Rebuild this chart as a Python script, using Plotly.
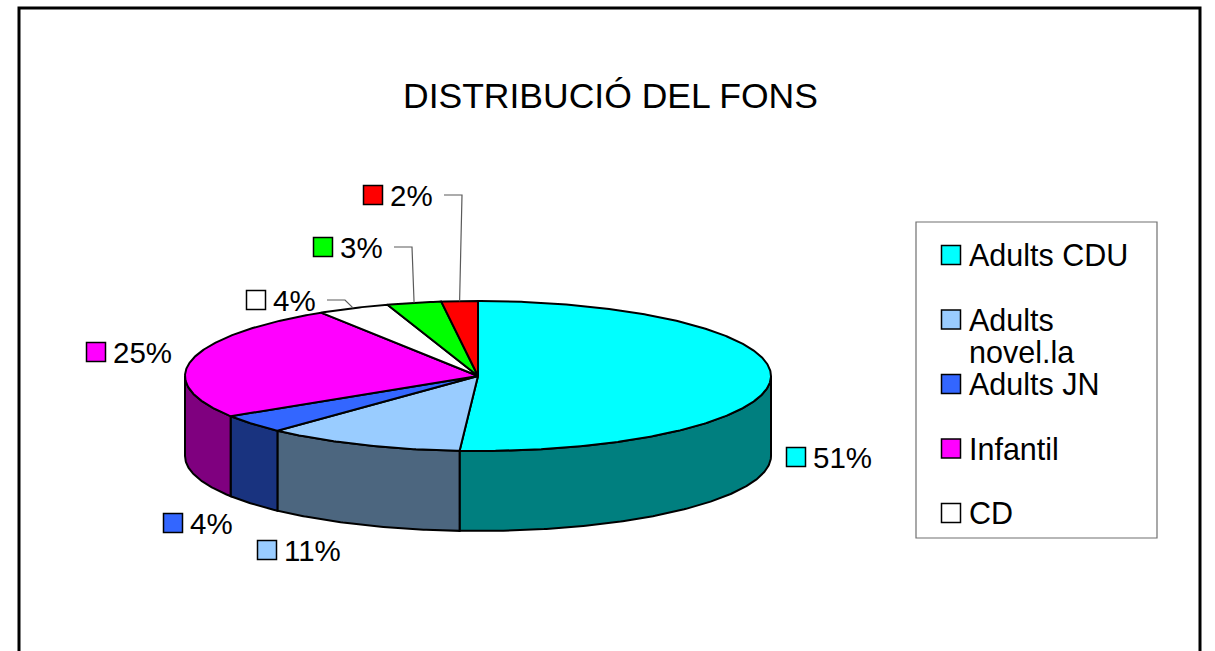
import numpy as np
import plotly.graph_objects as go

# ---------------- data ----------------
CATEGORIES = ["Adults CDU", "Adults novel.la", "Adults JN", "Infantil", "CD", "Altres 1", "Altres 2"]
VALUES = [51, 11, 4, 25, 4, 3, 2]
LEGEND_LABELS = [["Adults CDU"], ["Adults", "novel.la"], ["Adults JN"], ["Infantil"], ["CD"]]
TITLE = "DISTRIBUCIÓ DEL FONS"

# ---------------- style / layout ----------------
TOP_COLORS = ["#00FFFF", "#99CCFF", "#3366FF", "#FF00FF", "#FFFFFF", "#00FF00", "#FF0000"]
FONT = "Liberation Sans, Arial, sans-serif"
W, H = 1215, 651
CX, CY, RX, RY, DEPTH = 478, 376, 293, 75, 80      # pixel geometry of the 3D pie
START_ANGLE = 90                                    # 12 o'clock, clockwise
LABEL_POS = [(796, 457), (267, 550), (173, 523), (96, 352), (256, 300), (323, 247), (373, 195)]
HAS_LEADER = [False, False, False, False, True, True, True]
LEG_BOX = (916, 222, 1157, 538)
LEG_MARK_X, LEG_TOP, LEG_STEP, LEG_LINE = 951, 255, 64.5, 32


def darken(hexcol, f=0.5):
    h = hexcol.lstrip("#")
    r, g, b = (int(h[i:i + 2], 16) for i in (0, 2, 4))
    return "#%02X%02X%02X" % (int(r * f), int(g * f), int(b * f))


def ell(theta_deg, dy=0.0):
    t = np.radians(theta_deg)
    return CX + RX * np.cos(t), CY - RY * np.sin(t) + dy


total = float(sum(VALUES))
cum = np.concatenate([[0], np.cumsum(VALUES)])
a_start = START_ANGLE - 360 * cum[:-1] / total
a_end = START_ANGLE - 360 * cum[1:] / total
a_mid = (a_start + a_end) / 2

fig = go.Figure()

# ---- side walls (front half only) ----
for i, name in enumerate(CATEGORIES):
    for lo_f, hi_f in [(-180, 0), (-540, -360)]:
        lo = max(a_end[i], lo_f)
        hi = min(a_start[i], hi_f)
        if hi - lo <= 0:
            continue
        th = np.linspace(hi, lo, max(3, int((hi - lo) * 2)))
        xt, yt = ell(th)
        xb, yb = ell(th[::-1], DEPTH)
        xs = np.concatenate([xt, xb, xt[:1]])
        ys = np.concatenate([yt, yb, yt[:1]])
        fig.add_trace(go.Scatter(
            x=xs, y=ys, mode="lines", fill="toself",
            fillcolor=darken(TOP_COLORS[i]), line=dict(color="black", width=2),
            hoverinfo="text", hovertext=name, showlegend=False))

# ---- top faces ----
for i, name in enumerate(CATEGORIES):
    th = np.linspace(a_start[i], a_end[i], max(3, int(abs(a_start[i] - a_end[i]) * 2)))
    xa, ya = ell(th)
    xs = np.concatenate([[CX], xa, [CX]])
    ys = np.concatenate([[CY], ya, [CY]])
    fig.add_trace(go.Scatter(
        x=xs, y=ys, mode="lines", fill="toself",
        fillcolor=TOP_COLORS[i], line=dict(color="black", width=2),
        hoverinfo="text", hovertext=f"{name}: {VALUES[i]}%", showlegend=False))

# ---- data label keys ----
fig.add_trace(go.Scatter(
    x=[p[0] for p in LABEL_POS], y=[p[1] for p in LABEL_POS], mode="markers",
    marker=dict(symbol="square", size=19, color=TOP_COLORS, line=dict(color="black", width=1.5)),
    hoverinfo="skip", showlegend=False))

annotations = []
shapes = []
for i, v in enumerate(VALUES):
    lx, ly = LABEL_POS[i]
    annotations.append(dict(x=lx + 15, y=ly, xref="x", yref="y", text=f"{v}%",
                            showarrow=False, xanchor="left", yanchor="middle",
                            font=dict(family=FONT, size=29.5, color="black")))
    if HAS_LEADER[i]:
        mx, my = ell(a_mid[i])
        x0 = lx + 71
        path = f"M {x0},{ly} L {x0 + 18},{ly} L {mx},{my}"
        shapes.append(dict(type="path", path=path, xref="x", yref="y",
                           line=dict(color="#5a5a5a", width=1.2)))

# ---- legend (drawn as a box of keys) ----
shapes.append(dict(type="rect", xref="x", yref="y", x0=LEG_BOX[0], y0=LEG_BOX[1],
                   x1=LEG_BOX[2], y1=LEG_BOX[3], line=dict(color="#707070", width=1.2),
                   fillcolor="rgba(0,0,0,0)"))
leg_y = [LEG_TOP + k * LEG_STEP for k in range(len(LEGEND_LABELS))]
fig.add_trace(go.Scatter(
    x=[LEG_MARK_X] * len(LEGEND_LABELS), y=leg_y, mode="markers",
    marker=dict(symbol="square", size=19, color=TOP_COLORS[:len(LEGEND_LABELS)],
                line=dict(color="black", width=1.5)),
    hovertext=[" ".join(l) for l in LEGEND_LABELS], hoverinfo="text",
    showlegend=False))
for k, lines in enumerate(LEGEND_LABELS):
    for j, line_txt in enumerate(lines):
        annotations.append(dict(x=LEG_MARK_X + 16, y=leg_y[k] + j * LEG_LINE, xref="x", yref="y",
                                text=line_txt, showarrow=False, xanchor="left", yanchor="middle",
                                font=dict(family=FONT, size=30.5, color="black")))

# ---- title ----
annotations.append(dict(x=610, y=96, xref="x", yref="y", text=TITLE, showarrow=False,
                        xanchor="center", yanchor="middle",
                        font=dict(family=FONT, size=35.5, color="black")))

# ---- outer chart frame ----
shapes.append(dict(type="rect", xref="x", yref="y", x0=19, y0=8, x1=1200, y1=720,
                   line=dict(color="black", width=3), fillcolor="rgba(0,0,0,0)"))

fig.update_layout(
    width=W, height=H, margin=dict(l=0, r=0, t=0, b=0),
    paper_bgcolor="white", plot_bgcolor="white",
    xaxis=dict(range=[0, W], visible=False, fixedrange=True),
    yaxis=dict(range=[H, 0], visible=False, fixedrange=True),
    annotations=annotations, shapes=shapes, showlegend=False,
)

fig.write_html("out.html", config={"displayModeBar": False},
               post_script="document.body.style.margin='0';document.body.style.overflow='hidden';")
